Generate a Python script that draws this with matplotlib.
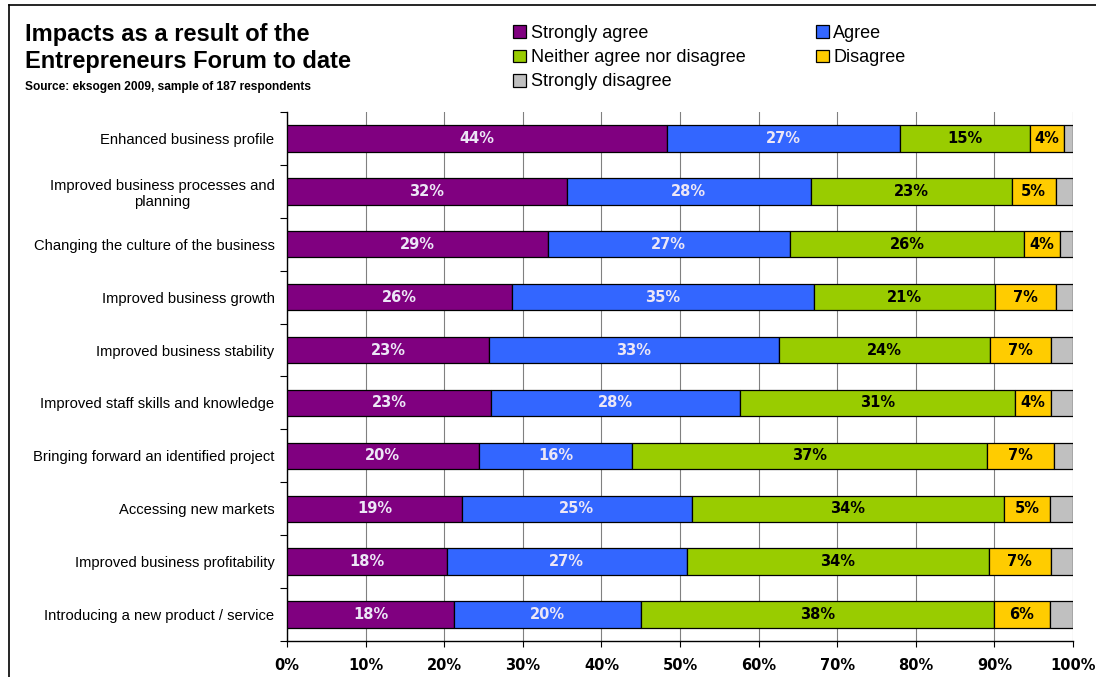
import numpy as np
import matplotlib
matplotlib.use("Agg")
import matplotlib.pyplot as plt
from matplotlib.lines import Line2D
from matplotlib.patches import Patch

categories = [
    "Enhanced business profile",
    "Improved business processes and\nplanning",
    "Changing the culture of the business",
    "Improved business growth",
    "Improved business stability",
    "Improved staff skills and knowledge",
    "Bringing forward an identified project",
    "Accessing new markets",
    "Improved business profitability",
    "Introducing a new product / service",
]
series = ["Strongly agree", "Agree", "Neither agree nor disagree", "Disagree", "Strongly disagree"]
strongly_agree = [44, 32, 29, 26, 23, 23, 20, 19, 18, 18]
agree = [27, 28, 27, 35, 33, 28, 16, 25, 27, 20]
neither = [15, 23, 26, 21, 24, 31, 37, 34, 34, 38]
disagree = [4, 5, 4, 7, 7, 4, 7, 5, 7, 6]
strongly_disagree = [1, 2, 1.5, 2, 2.5, 2.5, 2, 2.5, 2.5, 2.5]

colors = ["#800080", "#3366FF", "#99CC00", "#FFCC00", "#C0C0C0"]
label_colors = ["#ECE6F6", "#ECE6F6", "black", "black", None]

values = np.array([strongly_agree, agree, neither, disagree, strongly_disagree], dtype=float)
totals = values.sum(axis=0)
shares = values / totals  # each bar stretched to 100%

fig = plt.figure(figsize=(10.96, 6.77), dpi=100)
ax = fig.add_axes([0.2619, 0.0532, 0.7172, 0.7814])

y = np.arange(len(categories))
left = np.zeros(len(categories))
for i, name in enumerate(series):
    ax.barh(y, shares[i], left=left, height=0.5, color=colors[i],
            edgecolor="black", linewidth=0.9, label=name, zorder=3)
    if label_colors[i] is not None:
        for j in range(len(categories)):
            ax.text(left[j] + shares[i, j] / 2, y[j], f"{values[i, j]:.0f}%",
                    ha="center", va="center", fontsize=10.5, fontweight="bold",
                    family="DejaVu Sans", color=label_colors[i], zorder=4)
    left += shares[i]

ax.set_xlim(0, 1)
ax.set_ylim(len(categories) - 0.5, -0.5)
ax.set_xticks(np.linspace(0, 1, 11))
ax.set_xticklabels([f"{p}%" for p in range(0, 101, 10)],
                   fontsize=10.5, fontweight="bold", family="DejaVu Sans")
ax.set_yticks(y)
ax.set_yticklabels(categories, fontsize=10.6, family="Liberation Sans",
                   multialignment="center")
ax.set_yticks(np.arange(len(categories) + 1) - 0.5, minor=True)
ax.tick_params(axis="y", which="major", length=0, pad=9)
ax.tick_params(axis="y", which="minor", length=5, width=0.8, direction="out")
ax.tick_params(axis="x", length=4, width=0.8, direction="out", pad=8)
ax.xaxis.grid(True, color="#808080", linewidth=0.8, zorder=0)
ax.set_axisbelow(True)
for side in ["top", "right"]:
    ax.spines[side].set_visible(False)
for side in ["left", "bottom"]:
    ax.spines[side].set_linewidth(1.0)

# title block, one text per line placed on its baseline
title_font = dict(fontsize=17, fontweight="bold", family="Liberation Sans", va="baseline")
fig.text(25 / 1096, 1 - 41.5 / 677, "Impacts as a result of the", **title_font)
fig.text(25 / 1096, 1 - 68 / 677, "Entrepreneurs Forum to date", **title_font)
fig.text(25 / 1096, 1 - 90 / 677, "Source: eksogen 2009, sample of 187 respondents",
         fontsize=8.6, fontweight="bold", family="Liberation Sans", va="baseline")

handles = [Patch(facecolor=c, edgecolor="black", linewidth=0.9) for c in colors]
order = [0, 2, 4, 1, 3]  # legend fills by column; this lays it out row by row
fig.legend([handles[k] for k in order], [series[k] for k in order],
           loc="upper left", bbox_to_anchor=(0.4533, 0.987), ncol=2, frameon=False,
           prop={"family": "Liberation Sans", "size": 13},
           handlelength=0.72, handleheight=0.72, handletextpad=0.25,
           labelspacing=0.4, columnspacing=3.9)

# outer frame
fig.add_artist(Line2D([9 / 1096, 9 / 1096], [0, 1 - 5 / 677], color="black", linewidth=1.2))
fig.add_artist(Line2D([9 / 1096, 1], [1 - 5 / 677, 1 - 5 / 677], color="black", linewidth=1.2))

fig.savefig("out.png", dpi=100)
